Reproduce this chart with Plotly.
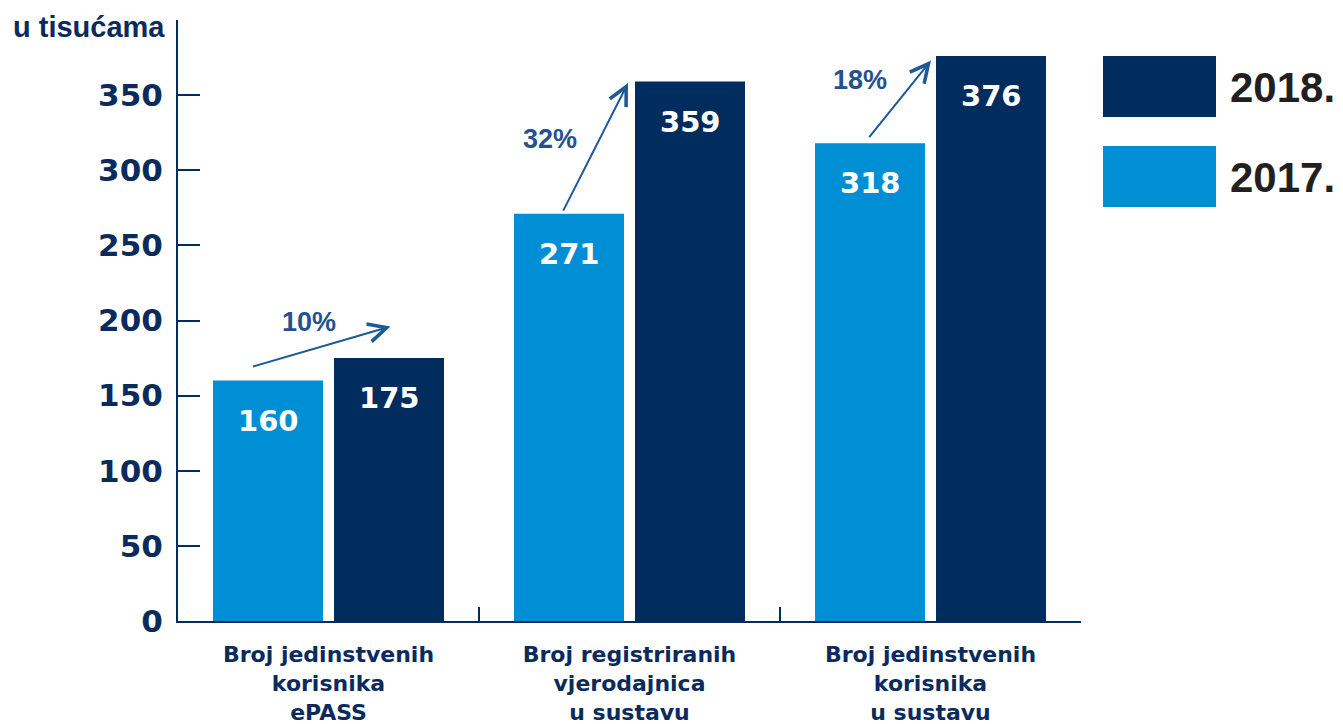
import plotly.graph_objects as go

# ---- data ----
categories = ["Broj jedinstvenih<br>korisnika<br>ePASS",
              "Broj registriranih<br>vjerodajnica<br>u sustavu",
              "Broj jedinstvenih<br>korisnika<br>u sustavu"]
values_2017 = [160, 271, 318]
values_2018 = [175, 359, 376]
growth_labels = ["10%", "32%", "18%"]
arrow_tail_y = [169, 272, 321]
arrow_head_y = [196, 358, 373]
label_y = [199, 321, 360]
y_tickvals = [0, 50, 100, 150, 200, 250, 300, 350, 400]
y_ticktext = ["0", "50", "100", "150", "200", "250", "300", "350", ""]

# ---- style ----
NAVY = "#012c5e"
LIGHT = "#008ed4"
TEXT_NAVY = "#0b2b5c"
PCT = "#25528f"
OFF = 8                      # default page body margin
PAGE_W, PAGE_H = 1343, 724
W, H = PAGE_W - OFF, PAGE_H - OFF
# plot area in page pixels
PL, PR, PT, PB = 178, 1081, 20, 621
L, R, T, B = PL - OFF, PR - OFF, PT - OFF, PB - OFF
def px_x(p): return (p - PL) / (PR - PL)
def px_y(p): return (PB - p) / (PB - PT)

fig = go.Figure()
fig.add_trace(go.Bar(x=categories, y=values_2017, name="2017.", marker_color=LIGHT,
                     marker_line_width=0, hoverinfo="y"))
fig.add_trace(go.Bar(x=categories, y=values_2018, name="2018.", marker_color=NAVY,
                     marker_line_width=0, hoverinfo="y"))

annotations = []
shapes = []
# value labels inside bars
for i, c in enumerate(categories):
    for v, sh in ((values_2017[i], -60.5), (values_2018[i], 60.5)):
        annotations.append(dict(x=c, y=v, xref="x", yref="y", text=str(v), showarrow=False,
                                xshift=sh, yshift=-40, yanchor="middle",
                                font=dict(family="DejaVu Sans", size=29, color="white", weight="bold")))
# growth arrows
head_dx = [62, -1.5, 0.5]
tail_dx = [-77, -67, -62.5]
label_dx = [-19.5, -79.5, -70.5]
for i, c in enumerate(categories):
    annotations.append(dict(x=c, y=arrow_head_y[i], xref="x", yref="y", xshift=head_dx[i],
                            ax=tail_dx[i] - head_dx[i], ay=(arrow_head_y[i] - arrow_tail_y[i]) * 1.5,
                            axref="pixel", ayref="pixel", showarrow=True, arrowhead=5,
                            arrowsize=1.8, arrowwidth=2, arrowcolor="#1d5899", text=""))
    annotations.append(dict(x=c, y=label_y[i], xref="x", yref="y", xshift=label_dx[i],
                            text=growth_labels[i], showarrow=False,
                            font=dict(family="Liberation Sans", size=27, color=PCT, weight="bold")))

# unit label
annotations.append(dict(x=px_x(11), y=px_y(27), xref="paper", yref="paper", xanchor="left",
                        yanchor="middle", text="u tisućama", showarrow=False,
                        font=dict(family="Liberation Sans", size=29, color=TEXT_NAVY, weight="bold")))

# custom legend
legend_items = [("2018.", NAVY, 56, 117), ("2017.", LIGHT, 146, 207)]
for name, col, y0, y1 in legend_items:
    shapes.append(dict(type="rect", xref="paper", yref="paper", x0=px_x(1103), x1=px_x(1216),
                       y0=px_y(y1), y1=px_y(y0), fillcolor=col, line_width=0))
    annotations.append(dict(x=px_x(1228), y=px_y((y0 + y1) / 2 + 1), xref="paper", yref="paper",
                            xanchor="left", yanchor="middle", text=name, showarrow=False,
                            font=dict(family="Liberation Sans", size=42, color="#231f20", weight="bold")))

fig.update_layout(
    width=W, height=H,
    margin=dict(l=L, r=W - R, t=T, b=H - B, pad=0, autoexpand=False),
    paper_bgcolor="white", plot_bgcolor="white",
    barmode="group", bargap=0.196, bargroupgap=0.0909,
    showlegend=False,
    annotations=annotations, shapes=shapes,
)
fig.update_xaxes(showline=True, linecolor=NAVY, linewidth=2, ticks="inside", ticklen=14,
                 tickwidth=2, tickcolor=NAVY, tickson="boundaries", showgrid=False, zeroline=False,
                 automargin=False,
                 tickfont=dict(family="DejaVu Sans", size=22, color=TEXT_NAVY, weight="bold"),
                 ticklabelstandoff=13)
fig.update_yaxes(range=[0, 400], showline=True, linecolor=NAVY, linewidth=2, ticks="inside",
                 ticklen=22, tickwidth=2, tickcolor=NAVY, tickvals=y_tickvals, ticktext=y_ticktext,
                 showgrid=False, zeroline=False, automargin=False,
                 tickfont=dict(family="DejaVu Sans", size=31, color=TEXT_NAVY, weight="bold"),
                 ticklabelstandoff=7)

fig.write_html("out.html")
